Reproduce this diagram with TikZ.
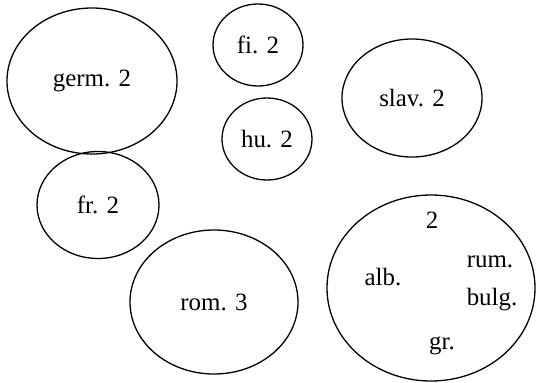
\documentclass[tikz,border=0pt]{standalone}
\usepackage{fontspec}
\setmainfont{Liberation Serif}
\usetikzlibrary{shapes.geometric}
\begin{document}
\begin{tikzpicture}[x=1bp,y=-1bp,
  blob/.style={draw,ellipse,line width=1.3bp,inner sep=0pt,font=\fontsize{25}{29}\selectfont},
  word/.style={inner sep=0pt,font=\fontsize{25}{29}\selectfont}]
\useasboundingbox (0,0) rectangle (537,382);
\node[blob,minimum width=170bp,minimum height=146bp] (germ) at (92,81) {germ. 2};
\node[blob,minimum width=90bp,minimum height=82bp] (fi) at (258,45) {fi. 2};
\node[blob,minimum width=90bp,minimum height=82bp] (hu) at (267,139) {hu. 2};
\node[blob,minimum width=140bp,minimum height=118bp] (slav) at (412,98) {slav. 2};
\node[blob,minimum width=122bp,minimum height=107bp] (fr) at (98,205) {fr. 2};
\node[blob,minimum width=168bp,minimum height=144bp] (rom) at (214,302) {rom. 3};
\node[blob,minimum width=208bp,minimum height=186bp] (big) at (431,288) {};
\node[word] (two) at (432,220) {2};
\node[word] (alb) at (383,277) {alb.};
\node[word] (rum) at (490,262) {rum.};
\node[word] (bulg) at (492,300) {bulg.};
\node[word] (gr) at (442,346) {gr.};
\end{tikzpicture}
\end{document}
